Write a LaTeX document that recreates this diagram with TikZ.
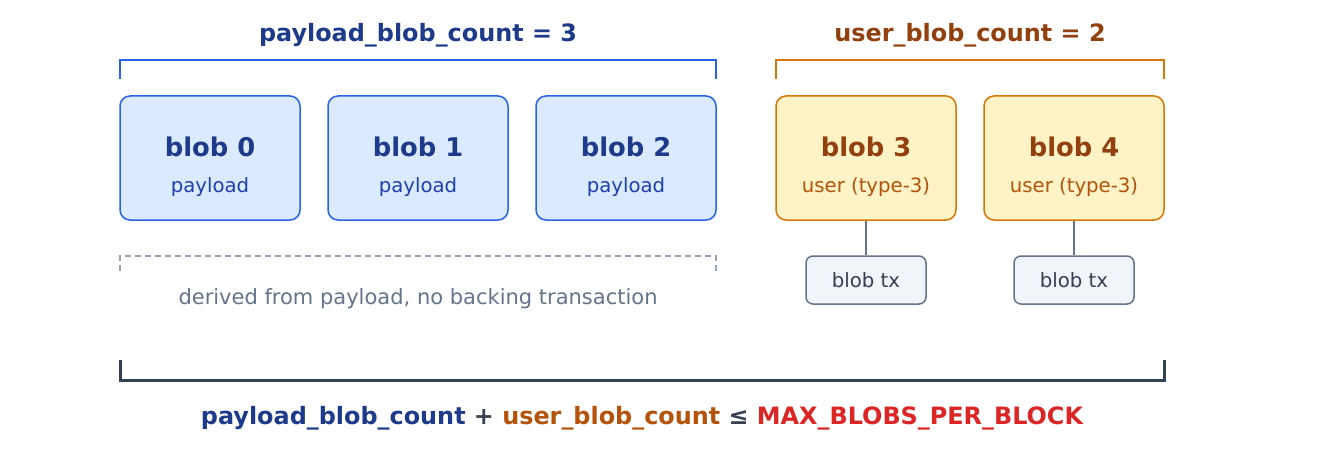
\documentclass[tikz,border=0pt]{standalone}
\usepackage{fontspec}
\setmainfont{DejaVu Sans}
\definecolor{bstroke}{HTML}{2563EB}
\definecolor{bfill}{HTML}{DBEAFE}
\definecolor{btext}{HTML}{1E3A8A}
\definecolor{bsub}{HTML}{1E40AF}
\definecolor{ostroke}{HTML}{D97706}
\definecolor{ofill}{HTML}{FEF3C7}
\definecolor{otext}{HTML}{92400E}
\definecolor{osub}{HTML}{B45309}
\definecolor{gstroke}{HTML}{64748B}
\definecolor{gfill}{HTML}{F1F5F9}
\definecolor{gtext}{HTML}{334155}
\definecolor{gdash}{HTML}{94A3B8}
\definecolor{dark}{HTML}{374151}
\definecolor{red}{HTML}{DC2626}
\tikzset{
  pbox/.style={draw=bstroke, fill=bfill, line width=1.5pt, rounded corners=10pt, minimum width=180pt, minimum height=124pt, inner sep=0pt},
  ubox/.style={draw=ostroke, fill=ofill, line width=1.5pt, rounded corners=10pt, minimum width=180pt, minimum height=124pt, inner sep=0pt},
  txbox/.style={draw=gstroke, fill=gfill, line width=1.5pt, rounded corners=7pt, minimum width=120pt, minimum height=48pt, inner sep=0pt, text=gtext, font=\fontsize{19.7}{23}\selectfont},
  big/.style={font=\bfseries\fontsize{25.8}{30}\selectfont, inner sep=0pt},
  sub/.style={font=\fontsize{19.7}{23}\selectfont, inner sep=0pt},
  ttl/.style={font=\bfseries\fontsize{23.9}{28}\selectfont, inner sep=0pt},
  link/.style={draw=gstroke, line width=1.5pt},
}
\begin{document}
\begin{tikzpicture}[x=1pt,y=-1pt]
\useasboundingbox (0,0) rectangle (1320,476);
% titles
\node[ttl, text=btext] (t1) at (418,35) {payload\_blob\_count = 3};
\node[ttl, text=otext] (t2) at (970,35) {user\_blob\_count = 2};
% top brackets
\draw[bstroke, line width=2.8pt] (120,79) -- (120,60) -- (716,60) -- (716,79);
\draw[ostroke, line width=2.8pt] (776,79) -- (776,60) -- (1164,60) -- (1164,79);
% payload boxes
\foreach \i/\x in {0/210,1/418,2/626}{
  \node[pbox] (p\i) at (\x,158) {};
  \node[big, text=btext] (pl\i) at (\x,147) {blob \i};
  \node[sub, text=bsub] (ps\i) at (\x,187) {payload};
}
% user boxes
\foreach \i/\x in {3/866,4/1074}{
  \node[ubox] (u\i) at (\x,158) {};
  \node[big, text=otext] (ul\i) at (\x,147) {blob \i};
  \node[sub, text=osub] (us\i) at (\x,187) {user (type-3)};
  \node[txbox] (tx\i) at (\x,280) {blob tx};
  \draw[link] (u\i.south) -- (tx\i.north);
}
% dashed bracket
\draw[gdash, line width=1.5pt, dash pattern=on 6pt off 4pt] (120,271) -- (120,256) -- (716,256) -- (716,271);
\node[sub, text=gstroke, font=\fontsize{21}{25}\selectfont] (der) at (418,299) {derived from payload, no backing transaction};
% bottom bracket
\draw[gtext, line width=3pt] (120,360) -- (120,380) -- (1164,380) -- (1164,360);
\node[ttl] (formula) at (642,418) {\textcolor{btext}{payload\_blob\_count} \textcolor{dark}{+} \textcolor{osub}{user\_blob\_count} \textcolor{dark}{≤} \textcolor{red}{MAX\_BLOBS\_PER\_BLOCK}};
\end{tikzpicture}
\end{document}
